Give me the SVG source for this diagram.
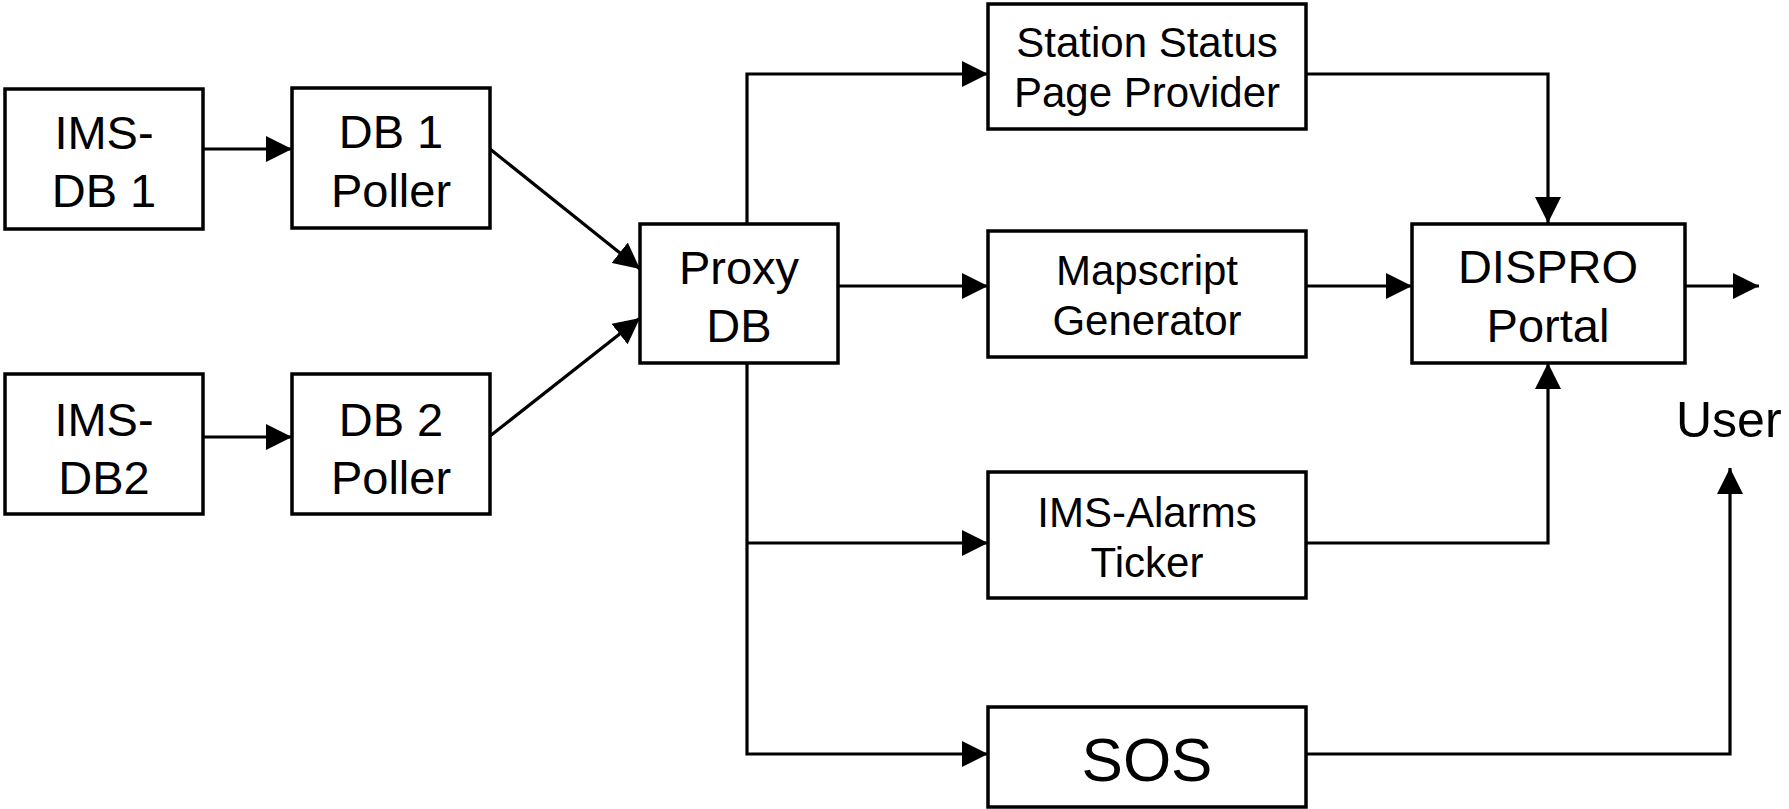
<svg xmlns="http://www.w3.org/2000/svg" width="1789" height="809" viewBox="0 0 1789 809">
<style>
.box{fill:#fff;stroke:#000;stroke-width:3.5}
.t{font-family:"Liberation Sans",Arial,sans-serif;fill:#000;text-anchor:middle}
.l{font-size:47px}
.r{font-size:42px}
.c{fill:none;stroke:#000;stroke-width:3.2}
</style>
<defs>
<marker id="ah" markerUnits="userSpaceOnUse" markerWidth="26" markerHeight="26" refX="26" refY="13" orient="auto" viewBox="0 0 26 26">
<path d="M0,0 L26,13 L0,26 z" fill="#000"/>
</marker>
</defs>
<rect width="1789" height="809" fill="#fff"/>
<g id="connectors">
<path class="c" d="M203,149 H292" marker-end="url(#ah)"/>
<path class="c" d="M203,437 H292" marker-end="url(#ah)"/>
<path class="c" d="M490,149 L640,269" marker-end="url(#ah)"/>
<path class="c" d="M490,436 L640,318" marker-end="url(#ah)"/>
<path class="c" d="M747,223 V74 H988" marker-end="url(#ah)"/>
<path class="c" d="M838,286 H988" marker-end="url(#ah)"/>
<path class="c" d="M747,363 V754 H988" marker-end="url(#ah)"/>
<path class="c" d="M747,543 H988" marker-end="url(#ah)"/>
<path class="c" d="M1306,74 H1548 V223" marker-end="url(#ah)"/>
<path class="c" d="M1306,286 H1412" marker-end="url(#ah)"/>
<path class="c" d="M1306,543 H1548 V363" marker-end="url(#ah)"/>
<path class="c" d="M1685,286 H1759" marker-end="url(#ah)"/>
<path class="c" d="M1306,754 H1730 V468" marker-end="url(#ah)"/>
</g>
<g id="ims-db1">
<rect class="box" x="5" y="89" width="198" height="140"/>
<text class="t l" x="104" y="149">IMS-</text>
<text class="t l" x="104" y="207">DB 1</text>
</g>
<g id="db1-poller">
<rect class="box" x="292" y="88" width="198" height="140"/>
<text class="t l" x="391" y="148">DB 1</text>
<text class="t l" x="391" y="207">Poller</text>
</g>
<g id="ims-db2">
<rect class="box" x="5" y="374" width="198" height="140"/>
<text class="t l" x="104" y="436">IMS-</text>
<text class="t l" x="104" y="494">DB2</text>
</g>
<g id="db2-poller">
<rect class="box" x="292" y="374" width="198" height="140"/>
<text class="t l" x="391" y="436">DB 2</text>
<text class="t l" x="391" y="494">Poller</text>
</g>
<g id="proxy-db">
<rect class="box" x="640" y="224" width="198" height="139"/>
<text class="t l" x="739" y="284">Proxy</text>
<text class="t l" x="739" y="342">DB</text>
</g>
<g id="station-status">
<rect class="box" x="988" y="4" width="318" height="125"/>
<text class="t r" x="1147" y="57">Station Status</text>
<text class="t r" x="1147" y="107">Page Provider</text>
</g>
<g id="mapscript">
<rect class="box" x="988" y="231" width="318" height="126"/>
<text class="t r" x="1147" y="285">Mapscript</text>
<text class="t r" x="1147" y="335">Generator</text>
</g>
<g id="ims-alarms">
<rect class="box" x="988" y="472" width="318" height="126"/>
<text class="t r" x="1147" y="527">IMS-Alarms</text>
<text class="t r" x="1147" y="577">Ticker</text>
</g>
<g id="sos">
<rect class="box" x="988" y="707" width="318" height="100"/>
<text class="t" style="font-size:62px" x="1147" y="781">SOS</text>
</g>
<g id="dispro">
<rect class="box" x="1412" y="224" width="273" height="139"/>
<text class="t l" x="1548" y="283">DISPRO</text>
<text class="t l" x="1548" y="342">Portal</text>
</g>
<g id="user">
<text class="t" style="font-size:50px;text-anchor:start" x="1676" y="437">User</text>
</g>
</svg>
